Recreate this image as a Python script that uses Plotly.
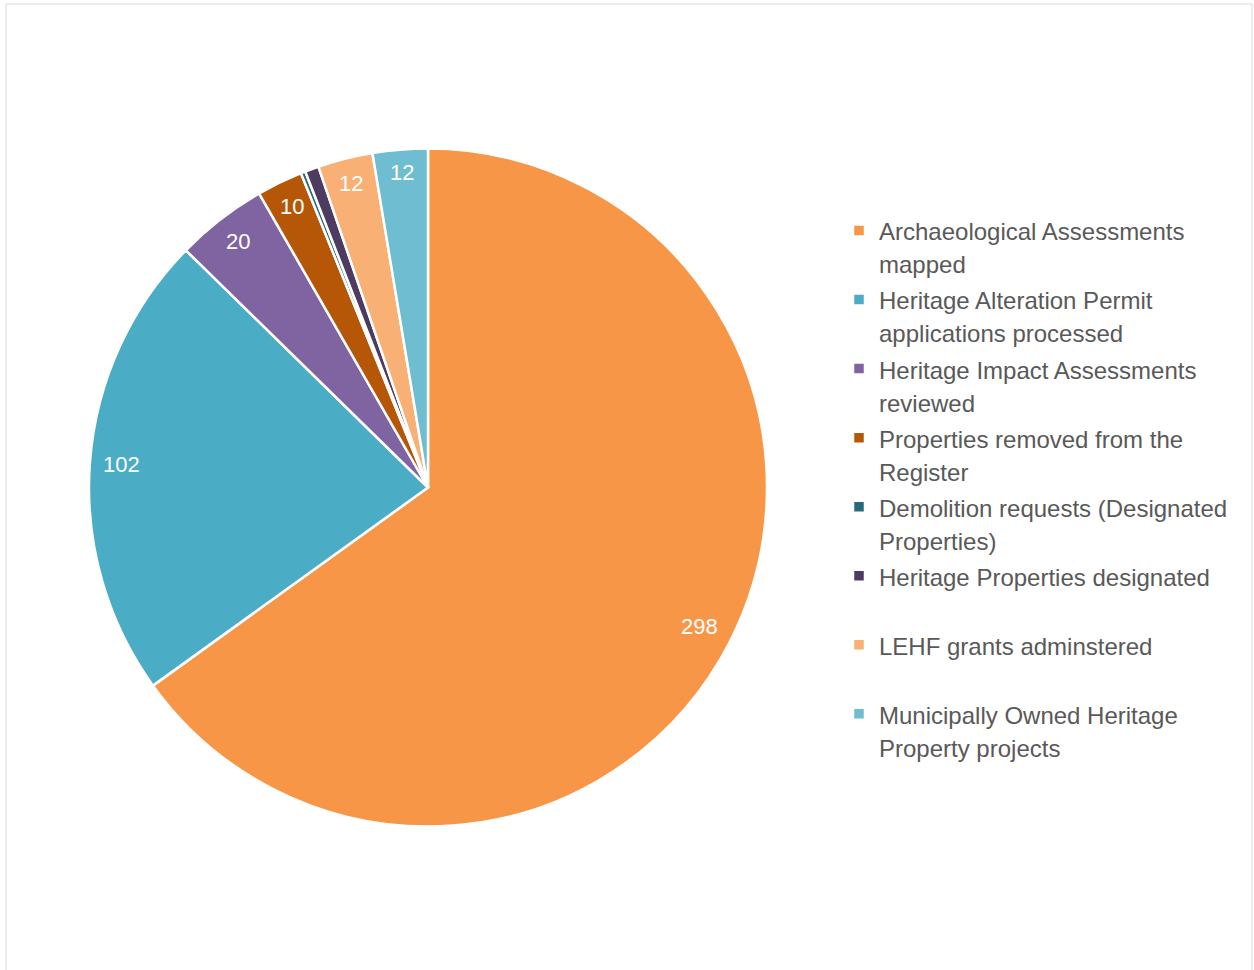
import math
import plotly.graph_objects as go

categories = [
    "Archaeological Assessments|mapped",
    "Heritage Alteration Permit|applications processed",
    "Heritage Impact Assessments|reviewed",
    "Properties removed from the|Register",
    "Demolition requests (Designated|Properties)",
    "Heritage Properties designated| ",
    "LEHF grants adminstered| ",
    "Municipally Owned Heritage|Property projects",
]
values = [298, 102, 20, 10, 1, 3, 12, 12]
label_text = ["298", "102", "20", "10", "", "", "12", "12"]
colors = ["#F79646", "#4BACC6", "#8064A2", "#B65708", "#276A7C", "#4D3B62", "#F9B074", "#6FBDD1"]

W, H = 1254, 970
FONT = "Liberation Sans, Arial, sans-serif"
LABEL_SIZE = 22

# legend entries: two lines each, glyphs at 24px
legend_names = [
    "<br>".join(f"<span style='font-size:24px'>{part}</span>" for part in c.split("|"))
    for c in categories
]

# pie geometry (pixels)
px0, px1 = 89, 767
py0, py1 = 148, 827
cx, cy = (px0 + px1) / 2, (py0 + py1) / 2
R = (px1 - px0) / 2

fig = go.Figure(go.Pie(
    labels=legend_names,
    values=values,
    textinfo="none",
    sort=False,
    direction="clockwise",
    rotation=0,
    marker=dict(colors=colors, line=dict(color="white", width=2.5)),
    domain=dict(x=[px0 / W, px1 / W], y=[1 - py1 / H, 1 - py0 / H]),
    hoverinfo="value",
))

# data labels placed at the inside end of each slice: the label box touches an inset rim
total = sum(values)
annotations = []
cum = 0
for v, t in zip(values, label_text):
    mid = (cum + v / 2) / total * 2 * math.pi
    cum += v
    if not t:
        continue
    half_w = 0.556 * LABEL_SIZE * len(t) / 2 + 2
    half_h = LABEL_SIZE / 2 + 1
    s, c = math.sin(mid), math.cos(mid)
    rr = R - 10 - (half_w * abs(s) + half_h * abs(c))
    x = cx + rr * s
    y = cy - rr * c
    annotations.append(dict(
        x=x / W, y=1 - y / H, xref="paper", yref="paper",
        text=t, showarrow=False, xanchor="center", yanchor="middle",
        font=dict(family=FONT, size=LABEL_SIZE, color="white"),
    ))

fig.update_layout(
    width=W, height=H,
    margin=dict(l=0, r=0, t=0, b=0),
    paper_bgcolor="white",
    plot_bgcolor="white",
    showlegend=True,
    legend=dict(
        x=839 / W, y=1 - 207.5 / H, xanchor="left", yanchor="top",
        font=dict(family=FONT, size=25.4, color="#595959"),
        valign="top",
        bgcolor="rgba(0,0,0,0)",
        itemclick=False,
    ),
    annotations=annotations,
    shapes=[dict(
        type="rect", xref="paper", yref="paper",
        x0=6 / W, x1=1252 / W, y0=-0.02, y1=1 - 4 / H,
        line=dict(color="#D9D9D9", width=1), fillcolor="rgba(0,0,0,0)", layer="below",
    )],
)

fig.write_html("out.html")
